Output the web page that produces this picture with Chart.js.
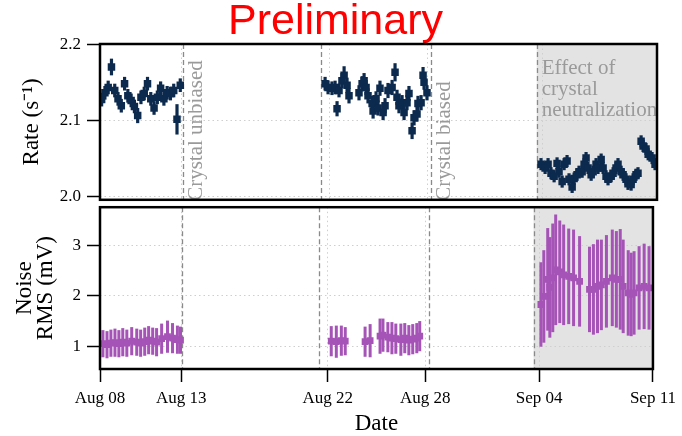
<!DOCTYPE html>
<html><head><meta charset="utf-8">
<script src="https://cdn.jsdelivr.net/npm/chart.js@4"></script>
<style>
html,body{margin:0;padding:0;background:#fff;}
#wrap{position:relative;width:682px;height:436px;overflow:hidden;background:#fff;}
#top{position:absolute;left:14px;top:0;width:668px;height:216px;}
#bot{position:absolute;left:0;top:191px;width:682px;height:245px;}
</style></head><body>
<div id="wrap"><canvas id="top" width="668" height="216"></canvas><canvas id="bot" width="682" height="245"></canvas></div>
<script>
// x axis: days since Aug 08
const xTickDays = [0, 5, 14, 20, 27, 34];
const xTickLabels = ['Aug 08', 'Aug 13', 'Aug 22', 'Aug 28', 'Sep 04', 'Sep 11'];
const rateTicks = [2.0, 2.1, 2.2];
const noiseTicks = [1, 2, 3];
const eventDays = [5.05, 13.47, 20.2, 26.66];
const eventLabels = ['Crystal unbiased', '', 'Crystal biased', ''];
const shadeRange = [26.66, 34];
const shadeLabel = ['Effect of', 'crystal', 'neutralization'];

const rateDays = [
  0.1,0.3,0.5,0.7,0.9,1.1,1.3,1.5,1.7,1.9,2.1,2.3,2.5,2.7,2.9,3.1,3.3,3.5,3.7,3.9,4.1,4.3,4.5,4.7,4.9,
  13.74,13.92,14.16,14.35,14.47,14.59,14.77,14.90,15.08,15.20,
  15.81,16.00,16.12,16.24,16.36,16.61,16.67,16.85,16.97,17.09,17.28,17.40,17.58,17.83,18.01,18.13,18.25,18.44,18.56,18.74,18.86,19.05,19.17,19.35,19.41,19.60,19.72,19.78,19.96,
  26.92,27.17,27.35,27.53,27.72,27.90,28.02,28.21,28.33,28.51,28.63,28.82,28.94,29.12,29.24,29.43,29.55,29.67,29.79,29.98,30.10,30.28,30.40,30.59,30.71,30.89,31.01,31.20,31.32,31.50,31.62,31.81,31.93,32.11,32.23,32.42,32.54,32.72,32.84,33.03,33.15,33.33,33.46,33.70,33.88
];
const rateVals = [
  2.128,2.137,2.144,2.171,2.140,2.129,2.120,2.149,2.133,2.127,2.119,2.107,2.131,2.136,2.149,2.129,2.117,2.131,2.143,2.129,2.137,2.136,2.140,2.102,2.147,
  2.149,2.144,2.143,2.144,2.116,2.140,2.153,2.160,2.147,2.133,
  2.137,2.149,2.153,2.144,2.133,2.123,2.113,2.129,2.117,2.143,2.111,2.120,2.140,2.144,2.164,2.131,2.120,2.124,2.111,2.124,2.136,2.087,2.104,2.109,2.123,2.124,2.160,2.151,2.137,
  2.043,2.038,2.043,2.031,2.027,2.044,2.033,2.020,2.043,2.047,2.023,2.013,2.024,2.029,2.033,2.033,2.043,2.051,2.038,2.029,2.033,2.043,2.038,2.049,2.038,2.027,2.023,2.027,2.031,2.038,2.043,2.033,2.029,2.023,2.017,2.016,2.023,2.029,2.031,2.073,2.067,2.063,2.056,2.051,2.043
];
const rateErr = [
  0.009,0.009,0.009,0.011,0.009,0.009,0.009,0.009,0.009,0.009,0.009,0.010,0.009,0.009,0.009,0.009,0.009,0.009,0.009,0.009,0.009,0.009,0.009,0.020,0.009,
  0.009,0.009,0.009,0.009,0.010,0.009,0.010,0.012,0.010,0.010,
  0.010,0.010,0.010,0.010,0.010,0.010,0.010,0.010,0.010,0.010,0.010,0.010,0.010,0.010,0.012,0.010,0.010,0.010,0.010,0.010,0.010,0.011,0.010,0.010,0.010,0.010,0.011,0.010,0.010,
  0.008,0.008,0.008,0.008,0.008,0.008,0.008,0.008,0.008,0.008,0.008,0.008,0.008,0.008,0.008,0.008,0.008,0.008,0.008,0.008,0.008,0.008,0.008,0.008,0.008,0.008,0.008,0.008,0.008,0.008,0.008,0.008,0.008,0.008,0.008,0.008,0.008,0.008,0.008,0.008,0.008,0.008,0.008,0.008,0.008
];

const noiseDays = [
  0.18,0.43,0.67,0.92,1.16,1.40,1.65,1.95,2.26,2.50,2.75,2.99,3.24,3.48,3.79,4.15,4.46,4.76,4.95,
  14.22,14.53,14.84,15.08,16.30,16.61,17.22,17.40,17.70,17.95,18.19,18.50,18.74,18.99,19.23,19.48,19.66,
  27.11,27.29,27.53,27.66,27.84,28.02,28.27,28.51,28.82,29.12,29.49,30.10,30.34,30.59,30.83,31.14,31.50,31.75,31.99,32.17,32.48,32.66,32.84,33.15,33.46,33.76
];
const noiseVals = [
  1.05,1.03,1.06,1.07,1.05,1.08,1.06,1.10,1.08,1.06,1.09,1.12,1.10,1.08,1.15,1.19,1.16,1.13,1.12,
  1.10,1.09,1.11,1.10,1.09,1.11,1.20,1.22,1.18,1.16,1.15,1.13,1.16,1.12,1.14,1.16,1.20,
  1.83,1.99,2.33,2.17,2.36,2.52,2.48,2.42,2.39,2.36,2.29,2.13,2.13,2.19,2.22,2.29,2.36,2.33,2.33,2.19,2.06,2.03,2.06,2.16,2.19,2.16
];
const noiseErr = [
  0.27,0.27,0.27,0.28,0.27,0.28,0.27,0.28,0.27,0.27,0.28,0.28,0.27,0.28,0.30,0.32,0.30,0.28,0.27,
  0.30,0.32,0.30,0.28,0.30,0.33,0.35,0.33,0.30,0.32,0.30,0.32,0.30,0.30,0.30,0.30,0.30,
  0.84,0.92,1.02,1.00,1.08,1.10,1.02,1.00,0.95,0.96,0.90,0.85,0.90,0.93,0.90,0.92,0.96,0.96,1.00,0.93,0.85,0.83,0.83,0.83,0.85,0.83
];

const NAVY = '#0c2a4e';
const PURPLE = '#a553b6';
const SERIF = "'Liberation Serif', 'Times New Roman', serif";

const bgPlugin = {
  id: 'shade',
  beforeDraw(chart) {
    const {ctx, chartArea: a, scales: {x}} = chart;
    ctx.save();
    ctx.fillStyle = '#e3e3e3';
    const x0 = x.getPixelForValue(shadeRange[0]), x1 = x.getPixelForValue(shadeRange[1]);
    ctx.fillRect(x0, a.top, x1 - x0, a.bottom - a.top);
    ctx.restore();
  }
};

const eventPlugin = {
  id: 'events',
  beforeDatasetsDraw(chart, args, opts) {
    const {ctx, chartArea: a, scales: {x}} = chart;
    ctx.save();
    ctx.strokeStyle = '#8a8a8a';
    ctx.lineWidth = 1.3;
    ctx.setLineDash([5, 3]);
    eventDays.forEach(d => {
      const px = Math.round(x.getPixelForValue(d)) + 0.5;
      ctx.beginPath(); ctx.moveTo(px, a.top); ctx.lineTo(px, a.bottom); ctx.stroke();
    });
    ctx.setLineDash([]);
    if (opts && opts.labels) {
      ctx.fillStyle = '#9a9a9a';
      ctx.font = '21px ' + SERIF;
      eventDays.forEach((d, i) => {
        if (!eventLabels[i]) return;
        const px = x.getPixelForValue(d);
        ctx.save();
        ctx.translate(px + 14, a.bottom + 1);
        ctx.rotate(-Math.PI / 2);
        ctx.textAlign = 'left'; ctx.textBaseline = 'middle';
        ctx.fillText(eventLabels[i], 0, 0);
        ctx.restore();
      });
      const sx = x.getPixelForValue(shadeRange[0]) + 5;
      ctx.textAlign = 'left'; ctx.textBaseline = 'middle';
      shadeLabel.forEach((t, i) => ctx.fillText(t, sx, a.top + 24 + i * 21));
    }
    ctx.restore();
  }
};

const errPlugin = {
  id: 'errbars',
  beforeDatasetsDraw(chart) {
    const {ctx, scales: {x, y}} = chart;
    chart.data.datasets.forEach(ds => {
      if (!ds.errors) return;
      ctx.save();
      ctx.strokeStyle = ds.backgroundColor;
      ctx.lineWidth = ds.errWidth;
      ds.data.forEach((p, i) => {
        const px = x.getPixelForValue(p.x);
        ctx.beginPath();
        ctx.moveTo(px, y.getPixelForValue(p.y - ds.errors[i]));
        ctx.lineTo(px, y.getPixelForValue(p.y + ds.errors[i]));
        ctx.stroke();
      });
      ctx.restore();
    });
  }
};

const framePlugin = {
  id: 'frame',
  afterDatasetsDraw(chart) {
    const {ctx, chartArea: a} = chart;
    ctx.save();
    ctx.strokeStyle = '#000';
    ctx.lineWidth = 2.5;
    ctx.strokeRect(a.left, a.top, a.right - a.left, a.bottom - a.top);
    ctx.restore();
  }
};

function xScale(showLabels) {
  return {
    type: 'linear', min: 0, max: 34,
    afterBuildTicks: s => { s.ticks = xTickDays.map(v => ({value: v})); },
    ticks: {
      display: showLabels, autoSkip: false, maxRotation: 0,
      callback: (v) => xTickLabels[xTickDays.indexOf(v)],
      font: {family: SERIF, size: 17}, color: '#000', padding: 6
    },
    grid: {color: '#cfcfcf', lineWidth: 1, drawTicks: showLabels, tickColor: '#000', tickLength: 13, tickWidth: 1.5},
    border: {display: false, dash: [1.5, 3]},
    title: {display: showLabels, text: 'Date', color: '#000', font: {family: SERIF, size: 23, lineHeight: 1.0}, padding: {top: 0, bottom: 1}},
    afterFit: s => { s.height = showLabels ? 67 : 16.2; }
  };
}

new Chart(document.getElementById('top'), {
  type: 'scatter',
  data: {datasets: [{
    data: rateDays.map((d, i) => ({x: d, y: rateVals[i]})),
    errors: rateErr, errWidth: 3.2,
    backgroundColor: NAVY, borderColor: NAVY, borderWidth: 0,
    pointStyle: 'rect', pointRadius: 5.3, pointHoverRadius: 5.3
  }]},
  options: {
    animation: false, responsive: false, devicePixelRatio: 1,
    layout: {padding: {left: 0, right: 25, top: 0, bottom: 0}},
    plugins: {
      legend: {display: false}, tooltip: {enabled: false},
      title: {display: true, text: 'Preliminary', color: '#ff0000',
        font: {family: "'Liberation Sans', Arial, sans-serif", size: 43, weight: 'normal', lineHeight: 1.0},
        padding: {top: 0.5, bottom: 0.5}},
      events: {labels: true}
    },
    scales: {
      x: xScale(false),
      y: {
        min: 1.996, max: 2.2013,
        afterBuildTicks: s => { s.ticks = rateTicks.map(v => ({value: v})); },
        ticks: {callback: v => v.toFixed(1), font: {family: SERIF, size: 17}, color: '#000', padding: 6},
        grid: {color: '#cfcfcf', lineWidth: 1, tickColor: '#000', tickLength: 13, tickWidth: 1.5},
        border: {display: false, dash: [1.5, 3]},
        title: {display: true, text: 'Rate (s\u207B\u00B9)', color: '#000', font: {family: SERIF, size: 23, lineHeight: 1.0}, padding: {top: 6.5, bottom: 0}},
        afterFit: s => { s.width = 86; }
      }
    }
  },
  plugins: [bgPlugin, eventPlugin, errPlugin, framePlugin]
});

new Chart(document.getElementById('bot'), {
  type: 'scatter',
  data: {datasets: [{
    data: noiseDays.map((d, i) => ({x: d, y: noiseVals[i]})),
    errors: noiseErr, errWidth: 3,
    backgroundColor: PURPLE, borderColor: PURPLE, borderWidth: 0,
    pointStyle: 'rect', pointRadius: 4.8, pointHoverRadius: 4.8
  }]},
  options: {
    animation: false, responsive: false, devicePixelRatio: 1,
    layout: {padding: {left: 0, right: 25, top: 0, bottom: 0}},
    plugins: {legend: {display: false}, tooltip: {enabled: false}, events: {labels: false}},
    scales: {
      x: xScale(true),
      y: {
        min: 0.547, max: 3.765,
        afterBuildTicks: s => { s.ticks = noiseTicks.map(v => ({value: v})); },
        ticks: {callback: v => String(v), font: {family: SERIF, size: 17}, color: '#000', padding: 6},
        grid: {color: '#cfcfcf', lineWidth: 1, tickColor: '#000', tickLength: 13, tickWidth: 1.5},
        border: {display: false, dash: [1.5, 3]},
        title: {display: true, text: ['Noise', 'RMS (mV)'], color: '#000', font: {family: SERIF, size: 23, lineHeight: 0.9}, padding: {top: 14.6, bottom: 0}},
        afterFit: s => { s.width = 100; }
      }
    }
  },
  plugins: [bgPlugin, eventPlugin, errPlugin, framePlugin]
});
</script>
</body></html>
